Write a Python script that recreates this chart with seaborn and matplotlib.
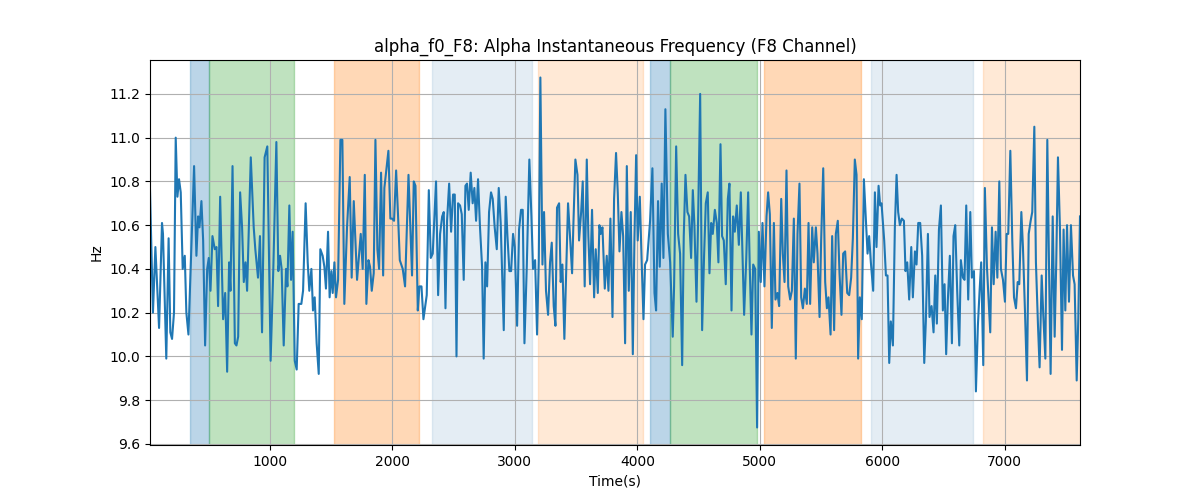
import numpy as np
import pandas as pd
import matplotlib
matplotlib.use('Agg')
import matplotlib.pyplot as plt
import seaborn as sns

# Tiempos (s) y frecuencia instantanea (Hz)
tiempo = [20, 44, 64, 94, 118, 126, 153, 172, 186, 200, 216, 230, 244, 257, 271, 287, 304, 317, 334, 358,
          380, 399, 413, 424, 440, 454, 470, 487, 500, 514, 530, 549, 563, 576, 593, 617, 634, 650, 666, 677,
          694, 713, 726, 740, 756, 772, 786, 800, 813, 843, 867, 880, 902, 918, 935, 956, 978, 1005, 1027, 1052,
          1068, 1082, 1095, 1112, 1131, 1142, 1158, 1172, 1185, 1202, 1218, 1234, 1256, 1270, 1291, 1308, 1321, 1338, 1351, 1365,
          1381, 1398, 1411, 1430, 1444, 1457, 1474, 1487, 1501, 1512, 1526, 1539, 1556, 1575, 1591, 1607, 1629, 1651, 1667, 1684,
          1711, 1741, 1757, 1774, 1787, 1804, 1817, 1831, 1847, 1861, 1877, 1891, 1907, 1924, 1934, 1951, 1967, 1983, 1997, 2013,
          2030, 2046, 2060, 2084, 2103, 2131, 2144, 2160, 2174, 2188, 2207, 2220, 2237, 2253, 2280, 2297, 2313, 2329, 2356, 2373,
          2389, 2406, 2419, 2433, 2446, 2463, 2479, 2495, 2509, 2523, 2536, 2552, 2566, 2582, 2596, 2609, 2623, 2639, 2655, 2669,
          2683, 2699, 2715, 2732, 2745, 2759, 2773, 2789, 2805, 2819, 2835, 2852, 2868, 2884, 2909, 2925, 2939, 2955, 2969, 2985,
          2999, 3018, 3034, 3050, 3064, 3078, 3097, 3118, 3135, 3148, 3165, 3181, 3195, 3208, 3225, 3238, 3254, 3271, 3287, 3301,
          3317, 3331, 3344, 3361, 3374, 3388, 3404, 3434, 3451, 3467, 3478, 3494, 3511, 3524, 3541, 3554, 3570, 3587, 3600, 3614,
          3630, 3647, 3660, 3677, 3690, 3701, 3715, 3734, 3750, 3764, 3780, 3797, 3810, 3826, 3840, 3854, 3870, 3884, 3900, 3914,
          3930, 3946, 3963, 3976, 3990, 4003, 4020, 4036, 4050, 4063, 4080, 4104, 4123, 4140, 4153, 4169, 4183, 4199, 4213, 4229,
          4249, 4268, 4289, 4300, 4317, 4333, 4349, 4366, 4379, 4393, 4409, 4423, 4439, 4453, 4466, 4483, 4496, 4513, 4529, 4545,
          4559, 4575, 4589, 4603, 4616, 4633, 4649, 4662, 4679, 4692, 4706, 4722, 4739, 4752, 4769, 4782, 4796, 4812, 4829, 4845,
          4859, 4872, 4889, 4905, 4918, 4932, 4946, 4962, 4978, 4992, 5008, 5022, 5038, 5055, 5068, 5082, 5098, 5115, 5128, 5144,
          5158, 5175, 5188, 5202, 5218, 5232, 5248, 5262, 5278, 5294, 5308, 5324, 5338, 5352, 5368, 5384, 5398, 5411, 5428, 5441,
          5458, 5471, 5488, 5501, 5518, 5534, 5548, 5561, 5578, 5591, 5607, 5621, 5637, 5651, 5667, 5681, 5697, 5714, 5730, 5746,
          5760, 5776, 5790, 5803, 5817, 5833, 5850, 5863, 5880, 5893, 5907, 5926, 5940, 5953, 5970, 5983, 5994, 6016, 6030, 6043,
          6057, 6070, 6087, 6103, 6117, 6130, 6144, 6160, 6177, 6190, 6204, 6220, 6237, 6250, 6267, 6280, 6294, 6310, 6326, 6343,
          6356, 6373, 6386, 6403, 6419, 6433, 6446, 6463, 6479, 6495, 6509, 6522, 6536, 6552, 6569, 6582, 6596, 6612, 6629, 6642,
          6659, 6672, 6686, 6702, 6719, 6732, 6749, 6765, 6781, 6795, 6808, 6825, 6838, 6855, 6868, 6882, 6896, 6910, 6926, 6940,
          6956, 6969, 6986, 7002, 7016, 7029, 7046, 7062, 7076, 7092, 7106, 7119, 7136, 7149, 7166, 7182, 7196, 7212, 7225, 7242,
          7255, 7272, 7285, 7302, 7315, 7332, 7348, 7362, 7375, 7392, 7408, 7421, 7435, 7451, 7468, 7481, 7495, 7509, 7525, 7541,
          7558, 7571, 7588, 7601, 7615]

freq = [10.76, 10.20, 10.50, 10.13, 10.61, 10.56, 9.99, 10.54, 10.11, 10.08, 10.20, 11.00, 10.73, 10.81, 10.75, 10.40, 10.46, 10.20, 10.10, 10.50,
        10.87, 10.46, 10.64, 10.59, 10.71, 10.53, 10.05, 10.40, 10.45, 10.30, 10.55, 10.49, 10.50, 10.23, 10.73, 10.17, 10.29, 9.93, 10.43, 10.30,
        10.87, 10.06, 10.05, 10.09, 10.75, 10.59, 10.34, 10.43, 10.30, 10.91, 10.59, 10.49, 10.36, 10.55, 10.11, 10.91, 10.96, 9.98, 10.40, 10.98,
        10.39, 10.46, 10.40, 10.05, 10.40, 10.32, 10.69, 10.35, 10.57, 9.98, 9.94, 10.24, 10.24, 10.30, 10.70, 10.43, 10.30, 10.40, 10.21, 10.27,
        10.06, 9.92, 10.49, 10.46, 10.41, 10.31, 10.57, 10.27, 10.39, 10.29, 10.43, 10.27, 10.35, 10.99, 10.99, 10.24, 10.59, 10.82, 10.36, 10.71,
        10.35, 10.56, 10.40, 10.83, 10.24, 10.44, 10.41, 10.30, 10.38, 10.99, 10.49, 10.40, 10.84, 10.37, 10.77, 10.86, 10.94, 10.63, 10.63, 10.62,
        10.85, 10.64, 10.44, 10.40, 10.32, 10.83, 10.62, 10.37, 10.80, 10.78, 10.21, 10.32, 10.32, 10.17, 10.28, 10.76, 10.45, 10.47, 10.80, 10.28,
        10.56, 10.64, 10.66, 10.22, 10.62, 10.79, 10.57, 10.74, 10.74, 10.00, 10.70, 10.69, 10.65, 10.35, 10.78, 10.79, 10.67, 10.84, 10.70, 10.77,
        10.62, 10.81, 10.59, 10.41, 9.99, 10.43, 10.32, 10.66, 10.75, 10.72, 10.59, 10.49, 10.77, 10.61, 10.12, 10.73, 10.55, 10.39, 10.39, 10.56,
        10.50, 10.14, 10.58, 10.67, 10.67, 10.06, 10.41, 10.90, 10.64, 10.40, 10.44, 10.10, 10.44, 11.275, 10.42, 10.66, 10.30, 10.19, 10.43, 10.52,
        10.23, 10.14, 10.68, 10.70, 10.34, 10.42, 10.08, 10.70, 10.54, 10.38, 10.61, 10.90, 10.83, 10.53, 10.66, 10.80, 10.32, 10.90, 10.55, 10.33,
        10.67, 10.27, 10.49, 10.29, 10.60, 10.56, 10.59, 10.31, 10.46, 10.30, 10.63, 10.18, 10.72, 10.93, 10.75, 10.48, 10.66, 10.55, 10.06, 10.87,
        10.30, 10.66, 10.01, 10.53, 10.92, 10.53, 10.73, 10.42, 10.17, 10.42, 10.44, 10.62, 10.86, 10.29, 10.21, 10.71, 10.41, 10.79, 10.45, 11.13,
        10.56, 10.43, 10.09, 10.32, 10.96, 10.56, 10.47, 9.96, 10.55, 10.83, 10.66, 10.64, 10.45, 10.76, 10.60, 10.25, 10.62, 11.20, 10.12, 10.46,
        10.70, 10.75, 10.38, 10.61, 10.56, 10.67, 10.61, 10.43, 10.97, 10.55, 10.53, 10.33, 10.72, 10.79, 10.21, 10.64, 10.57, 10.69, 10.51, 10.75,
        10.46, 10.19, 10.44, 10.75, 10.41, 10.10, 10.42, 10.40, 9.675, 10.57, 10.34, 10.61, 10.32, 10.64, 10.75, 10.65, 10.13, 10.61, 10.26, 10.29,
        10.23, 10.72, 10.47, 10.34, 10.85, 10.32, 10.26, 10.30, 10.63, 9.99, 10.56, 10.79, 10.27, 10.22, 10.31, 10.24, 10.61, 10.24, 10.59, 10.43,
        10.59, 10.47, 10.18, 10.53, 10.86, 10.34, 10.22, 10.27, 10.10, 10.55, 10.12, 10.56, 10.62, 10.38, 10.19, 10.47, 10.48, 10.29, 10.28, 10.36,
        10.54, 10.90, 10.83, 9.99, 10.27, 10.17, 10.81, 10.66, 10.47, 10.55, 10.43, 10.30, 10.75, 10.50, 10.78, 10.69, 10.70, 10.53, 10.37, 10.37,
        9.97, 10.16, 10.05, 10.59, 10.83, 10.66, 10.60, 10.63, 10.62, 10.39, 10.43, 10.26, 10.50, 10.27, 10.48, 10.42, 10.61, 10.61, 10.46, 9.97,
        10.16, 10.56, 10.18, 10.23, 10.11, 10.37, 10.15, 10.58, 10.69, 10.21, 10.33, 10.01, 10.26, 10.46, 10.06, 10.55, 10.60, 10.30, 10.05, 10.44,
        10.36, 10.35, 10.69, 10.26, 10.66, 10.36, 10.39, 9.84, 10.14, 10.30, 10.43, 9.96, 10.77, 10.41, 10.27, 10.11, 10.59, 10.33, 10.57, 10.36,
        10.80, 10.40, 10.35, 10.25, 10.56, 10.56, 10.94, 10.53, 10.27, 10.22, 10.34, 10.33, 10.66, 10.50, 10.20, 9.89, 10.56, 10.62, 10.66, 11.05,
        10.43, 10.14, 9.95, 10.37, 10.19, 9.99, 10.99, 10.41, 9.92, 10.64, 10.09, 10.43, 10.91, 10.59, 10.03, 10.58, 10.21, 10.60, 10.25, 10.60,
        10.37, 10.33, 9.89, 10.17, 10.64]

# Intervalos sombreados (inicio, fin) en segundos
inicio_bandas = [346, 504, 1523, 2323, 3190, 4104, 4270, 5036, 5910, 6825]
fin_bandas = [504, 1193, 2215, 3141, 4047, 4270, 4976, 5826, 6744, 7700]
color_bandas = ['tab:blue', 'tab:green', 'tab:orange', 'steelblue', 'tab:orange',
                'tab:blue', 'tab:green', 'tab:orange', 'steelblue', 'tab:orange']
alpha_bandas = [0.3, 0.3, 0.3, 0.14, 0.17, 0.3, 0.3, 0.3, 0.14, 0.17]

df = pd.DataFrame({'Time(s)': tiempo, 'Hz': freq})

fig, ax = plt.subplots(figsize=(12, 5), dpi=100)
for a, b, c, al in zip(inicio_bandas, fin_bandas, color_bandas, alpha_bandas):
    ax.axvspan(a, b, color=c, alpha=al)

sns.lineplot(data=df, x='Time(s)', y='Hz', ax=ax, color='tab:blue', linewidth=1.5)
ax.set_xlim(df['Time(s)'].min(), df['Time(s)'].max())
ax.grid(True)
ax.set_title('alpha_f0_F8: Alpha Instantaneous Frequency (F8 Channel)')
ax.set_xlabel('Time(s)')
ax.set_ylabel('Hz')

plt.savefig('out.png')
